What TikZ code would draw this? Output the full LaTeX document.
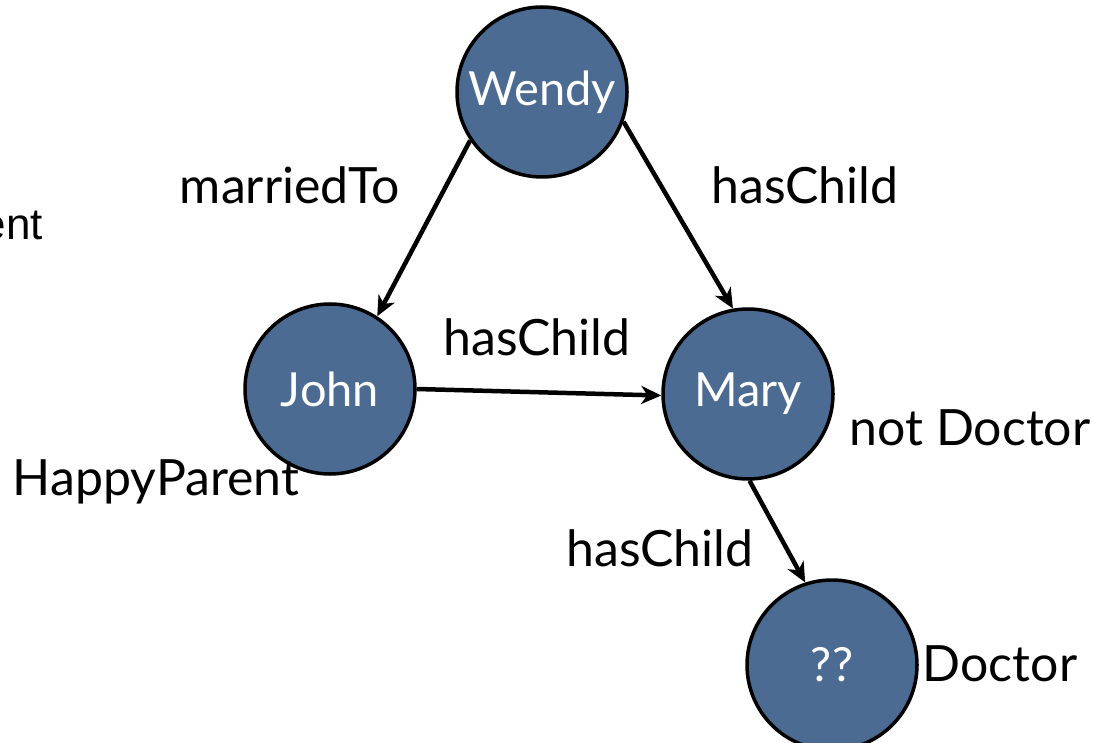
\documentclass[tikz,border=0pt]{standalone}
\usepackage{fontspec}
\setmainfont{Lato}
\newfontfamily\arialfont{Liberation Sans}
\usetikzlibrary{arrows.meta}
\definecolor{nodeblue}{RGB}{75,107,146}
\tikzset{
  person/.style={circle, draw=black, line width=3.5pt, fill=nodeblue, minimum size=170pt, inner sep=0pt, text=white, font=\fontsize{47}{52}\selectfont},
  lbl/.style={anchor=base, inner sep=0pt, text=black, font=\fontsize{50}{56}\selectfont},
  rel/.style={line width=4.5pt, -{Stealth[length=20pt,width=18pt,inset=6pt]}}
}
\begin{document}
\begin{tikzpicture}[x=1pt,y=-1pt]
\useasboundingbox (0,0) rectangle (1113,743);
\clip (0,0) rectangle (1113,743);
\node[person] (wendy) at (542,92) {Wendy};
\node[person] (john) at (330,389) {John};
\node[person] (mary) at (748,394) {Mary};
\node[person] (unk) at (832,665) {??};

\draw[rel] (wendy.214) -- (john.57);
\draw[rel] (wendy.-20) -- (mary.100);
\draw[rel] (john.0) -- (mary.181);
\draw[rel] (mary.271) -- (unk.108);

\node[lbl] (l1) at (290,204) {marriedTo};
\node[lbl] (l2) at (805,204) {hasChild};
\node[lbl] (l3) at (537,355) {hasChild};
\node[lbl] (l4) at (970,445) {not Doctor};
\node[lbl] (l5) at (156,495) {HappyParent};
\node[lbl] (l6) at (660,566) {hasChild};
\node[lbl] (l7) at (1000,681) {Doctor};
\node[anchor=base east, inner sep=0pt, font=\arialfont\fontsize{44}{50}\selectfont] (l8) at (43,240) {ent};
\end{tikzpicture}
\end{document}
